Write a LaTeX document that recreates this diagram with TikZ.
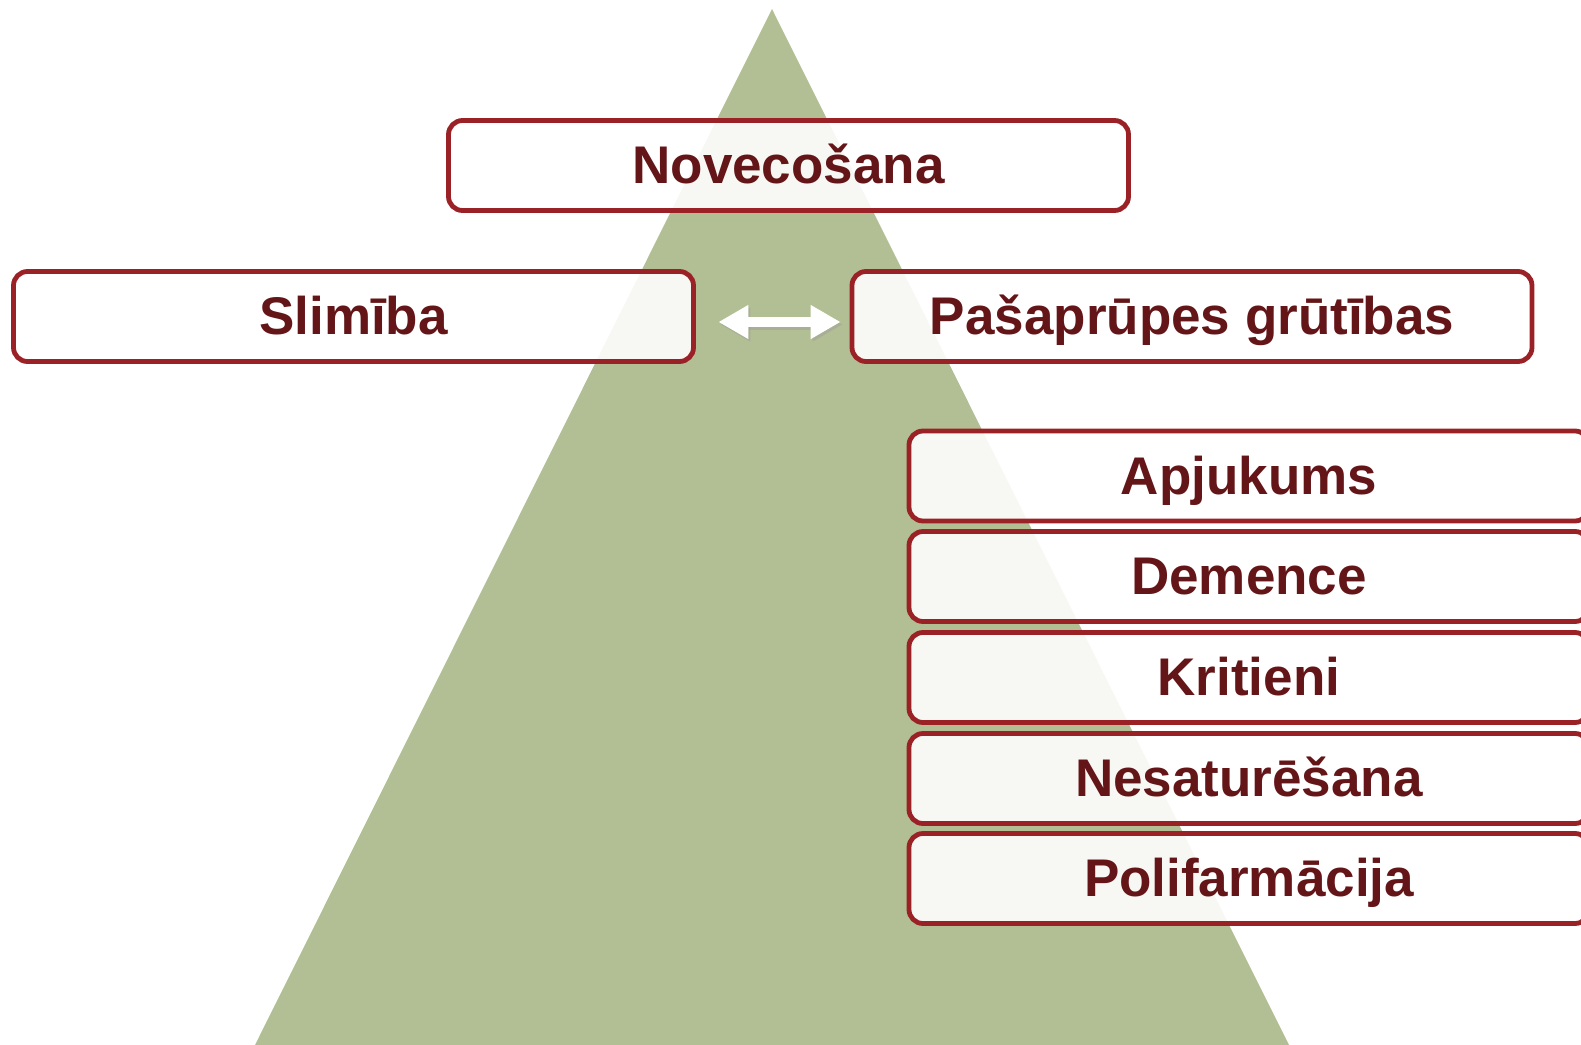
\documentclass[tikz,border=0pt]{standalone}
\usepackage{fontspec}
\setmainfont{Liberation Sans}
\usepackage{tikz}
\usetikzlibrary{arrows.meta}

\definecolor{pyrgreen}{HTML}{B2BF94}
\definecolor{boxred}{HTML}{9A2226}
\definecolor{textred}{HTML}{641518}

\tikzset{
  stage/.style={draw=boxred, line width=2.4pt, fill=white, fill opacity=0.9,
    text opacity=1, rounded corners=7pt, minimum width=340pt,
    minimum height=45pt, inner sep=0pt, text=textred,
    font=\fontsize{26.5pt}{30pt}\selectfont\bfseries,
    text height=19pt, text depth=1pt},
  link/.style={line width=5pt, {Triangle[length=15pt,width=16pt]}-{Triangle[length=15pt,width=16pt]}}
}

\begin{document}
\begin{tikzpicture}[x=0.5pt,y=-0.5pt]
  \path[use as bounding box, clip] (0,0) rectangle (1581,1045);

  % pyramid
  \fill[pyrgreen] (772,9) -- (255,1045) -- (1289,1045) -- cycle;

  \node[stage] (nov) at (788.5,165.5) {Novecošana};
  \node[stage] (slim) at (353.5,316.5) {Slimība};
  \node[stage] (pas) at (1192,316.5) {Pašaprūpes grūtības};

  \node[stage] (apj) at (1249,476) {Apjukums};
  \node[stage] (dem) at (1249,576.5) {Demence};
  \node[stage] (krit) at (1249,677.5) {Kritieni};
  \node[stage] (nes) at (1249,778.5) {Nesaturēšana};
  \node[stage] (pol) at (1249,878.5) {Polifarmācija};

  % two-way arrow
  \draw[link, black!40, opacity=0.4] ([xshift=12.25pt,yshift=-4pt]slim.east) -- ([xshift=-3.5pt,yshift=-4pt]pas.west);
  \draw[link, white] ([xshift=11.25pt,yshift=-2.75pt]slim.east) -- ([xshift=-4.5pt,yshift=-2.75pt]pas.west);
\end{tikzpicture}
\end{document}
